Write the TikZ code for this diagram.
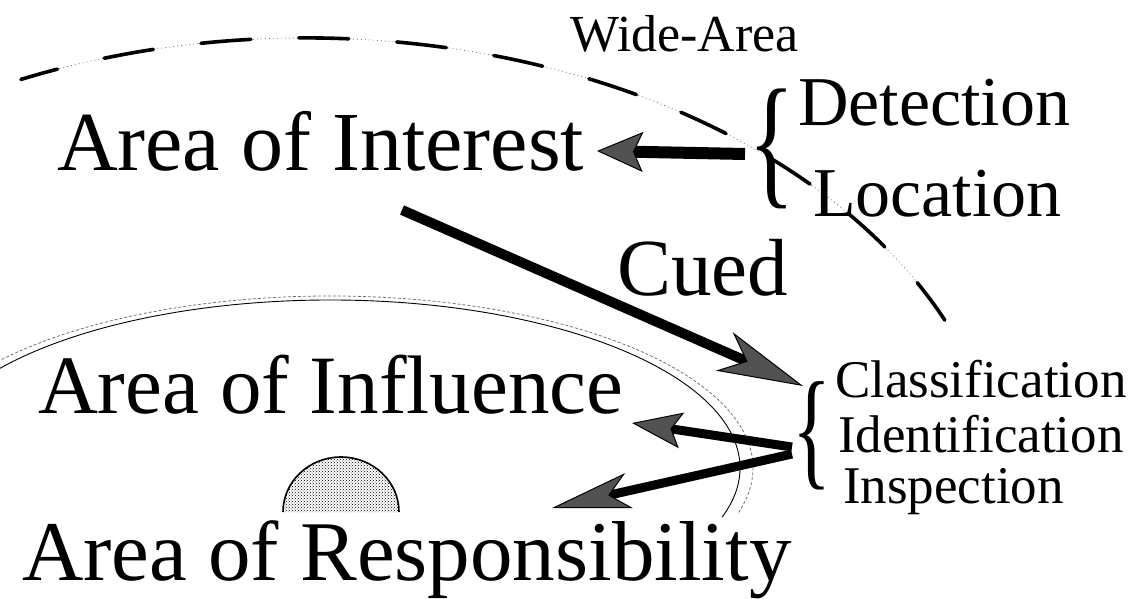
\documentclass[tikz,border=0pt]{standalone}
\usepackage{fontspec}
\setmainfont{Liberation Serif}[Ligatures=CommonOff]
\usetikzlibrary{arrows.meta,patterns}
\newcommand{\fsz}[1]{\fontsize{#1}{#1}\selectfont}
\begin{document}
\begin{tikzpicture}[x=1pt,y=1pt,
  lbl/.style={anchor=base west, inner sep=0pt, outer sep=0pt},
  bracenode/.style={inner sep=0pt, outer sep=0pt, anchor=center},
  shaft/.style={line width=10pt, line cap=butt, draw=black},
  thinshaft/.style={line width=9pt, line cap=butt, draw=black},
  headdet/.style={-{Stealth[length=46pt, width=40pt, inset=9pt, line width=1pt, fill=black!68]}},
  headcue/.style={-{Stealth[length=86pt, width=42pt, inset=24pt, line width=1pt, fill=black!68]}},
  headinf/.style={-{Stealth[length=50pt, width=36pt, inset=10pt, line width=1pt, fill=black!68]}},
  headres/.style={-{Stealth[length=79pt, width=36pt, inset=20pt, line width=1pt, fill=black!68]}},
]
\useasboundingbox (0,0) rectangle (1134,-599);

% wide-area boundary: faint dotted trace with heavy dashes on top
\draw[line width=0.6pt, black!60, dash pattern=on 1pt off 3pt]
  (306,-517.5) ++(114:701 and 479.5) arc[start angle=114, end angle=24.3, x radius=701, y radius=479.5];
\draw[line width=3.6pt, dash pattern=on 50pt off 48pt, dash phase=12pt, line cap=round]
  (306,-517.5) ++(114:701 and 479.5) arc[start angle=114, end angle=24.3, x radius=701, y radius=479.5];

% area of influence boundary: thin solid line with a grey dotted companion
\draw[line width=0.9pt]
  (330,-468) ++(146:410 and 168) arc[start angle=146, end angle=-17, x radius=410, y radius=168];
\draw[line width=0.8pt, black!55, dash pattern=on 3pt off 2pt]
  (330,-468) ++(148:423 and 172) arc[start angle=148, end angle=-15, x radius=423, y radius=172];

% area of responsibility dome
\path[pattern=crosshatch dots, pattern color=black] (283,-512) arc[start angle=180, end angle=0, x radius=58, y radius=55] -- cycle;
\draw[line width=1.6pt] (283,-512) arc[start angle=180, end angle=0, x radius=58, y radius=55];

% labels
\node[lbl, font=\fsz{52}] (wide) at (570,-52) {Wide-Area};
\node[lbl, font=\fsz{70}] (det) at (798,-125) {Detection};
\node[lbl, font=\fsz{70}] (loc) at (813,-216) {Location};
\node[lbl, font=\fsz{84}] (aoi) at (57,-170) {Area of Interest};
\node[lbl, font=\fsz{81}] (cued) at (617,-295) {Cued};
\node[lbl, font=\fsz{83}] (aoinf) at (38,-413) {Area of Influence};
\node[lbl, font=\fsz{53}] (cls) at (835,-397) {Classification};
\node[lbl, font=\fsz{53}] (idf) at (838,-452) {Identification};
\node[lbl, font=\fsz{53}] (insp) at (843,-503) {Inspection};
\node[lbl, font=\fsz{85}] (aor) at (22,-580) {Area of Responsibility};

% braces
\node[bracenode] (brA) at (772,-149) {\scalebox{0.67}[1]{\fsz{145}\{}};
\node[bracenode] (brB) at (812,-436) {\scalebox{0.62}[1]{\fsz{131}\{}};

% arrow end points
\coordinate (detS) at (745,-154);
\coordinate (detT) at (597,-151);
\coordinate (cueS) at (402,-210);
\coordinate (cueT) at (803,-386);
\coordinate (infS) at (792,-447);
\coordinate (resS) at (792,-454);
\coordinate (infT) at (632,-423);
\coordinate (resT) at (552,-508);

\draw[shaft, line width=12pt, headdet] (detS) -- (detT);
\draw[shaft, headcue] (cueS) -- (cueT);
\draw[thinshaft, headinf] (infS) -- (infT);
\draw[thinshaft, headres] (resS) -- (resT);
\end{tikzpicture}
\end{document}
